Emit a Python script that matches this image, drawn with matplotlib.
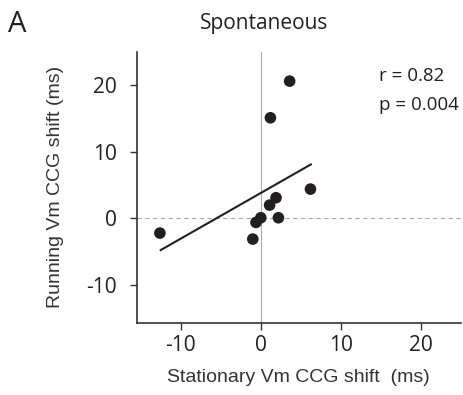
import matplotlib
matplotlib.use("Agg")
import matplotlib.pyplot as plt

plt.rcParams["axes.unicode_minus"] = False

# ── data ─────────────────────────────────────────────────────────────────────
stationary_shift = [-12.6, 3.6, 1.2, 6.2, 1.9, 1.1, 0.0, -0.6, 2.2, -1.0]
running_shift    = [-2.2, 20.6, 15.1, 4.4, 3.1, 2.0, 0.1, -0.6, 0.1, -3.1]
fit_x = [-12.5, 6.25]
fit_y = [-4.75, 8.1]
x_ticks = [-10, 0, 10, 20]
y_ticks = [-10, 0, 10, 20]
r_text = "r = 0.82"
p_text = "p = 0.004"

INK = "#231f20"

fig = plt.figure(figsize=(4.63, 3.95), dpi=100)
ax = fig.add_axes([0.2952, 0.183, 0.7005, 0.685])

ax.axvline(0, color="#aaaaaa", lw=0.8, zorder=1)
ax.axhline(0, color="#aaaaaa", lw=0.8, ls=(0, (4, 3)), zorder=1)

ax.plot(fit_x, fit_y, color=INK, lw=1.5, zorder=2)
ax.scatter(stationary_shift, running_shift, s=70, color=INK, zorder=3,
           edgecolors="none")

ax.set_xlim(-15.5, 25)
ax.set_ylim(-15.65, 24.95)
ax.set_xticks(x_ticks)
ax.set_yticks(y_ticks)
ax.tick_params(direction="out", length=5, width=1, color="#333333",
               labelsize=15, labelcolor=INK)
ax.tick_params(axis="y", pad=9)
ax.tick_params(axis="x", pad=4)
for lab in ax.get_xticklabels() + ax.get_yticklabels():
    lab.set_family("Open Sans")

for side in ["top", "right"]:
    ax.spines[side].set_visible(False)
for side in ["left", "bottom"]:
    ax.spines[side].set_color("#333333")
    ax.spines[side].set_linewidth(1.2)

ax.set_xlabel("Stationary Vm CCG shift  (ms)", fontsize=14,
              family="Liberation Sans", color="#333333", labelpad=9)
ax.set_ylabel("Running Vm CCG shift (ms)", fontsize=14,
              family="Liberation Sans", color="#333333", labelpad=16)

ax.text(0.747, 0.911, r_text, transform=ax.transAxes, fontsize=13.5,
        family="Open Sans", color=INK, va="center")
ax.text(0.747, 0.804, p_text, transform=ax.transAxes, fontsize=13.5,
        family="Open Sans", color=INK, va="center")

fig.text(264 / 463, 1 - 24 / 395, "Spontaneous", fontsize=15,
         family="Open Sans", color=INK, ha="center", va="center")
fig.text(8 / 463, 1 - 24 / 395, "A", fontsize=21,
         family="Open Sans", color=INK, ha="left", va="center")

fig.savefig("out.png", dpi=100)
